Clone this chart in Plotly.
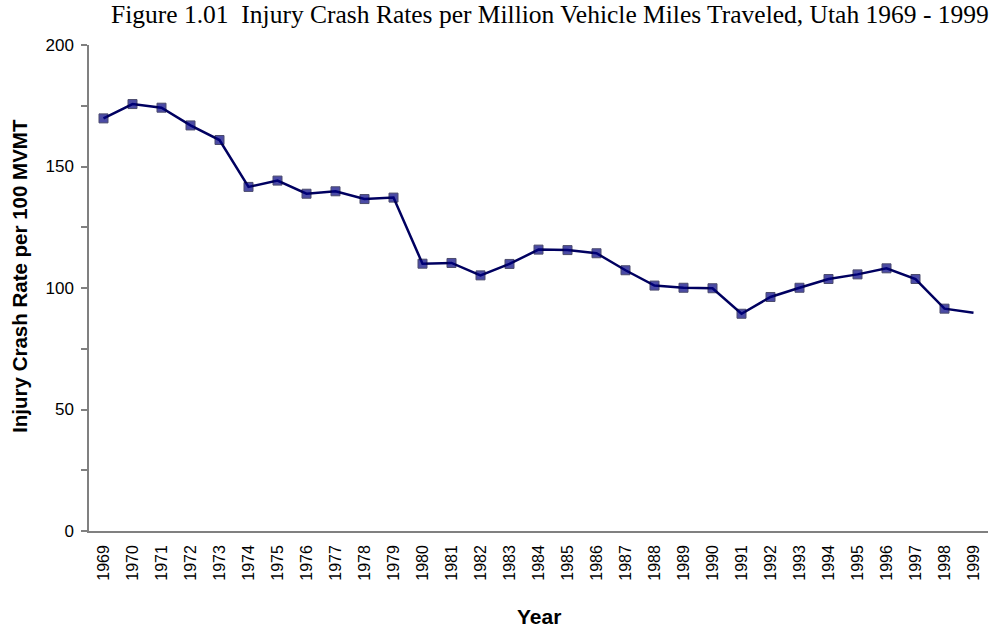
import plotly.graph_objects as go

years = [str(y) for y in range(1969, 2000)]
rates = [169.8, 175.7, 174.2, 166.9, 160.9, 141.6, 144.2, 138.8, 139.8, 136.6,
         137.2, 110.0, 110.3, 105.2, 109.9, 115.8, 115.6, 114.3, 107.3, 101.0,
         100.1, 99.9, 89.4, 96.3, 100.1, 103.7, 105.6, 108.1, 103.7, 91.5, 89.8]
y_ticks = [0, 50, 100, 150, 200]

title_text = "Figure 1.01  Injury Crash Rates per Million Vehicle Miles Traveled, Utah 1969 - 1999"
y_title = "Injury Crash Rate per 100 MVMT"
x_title = "Year"

sizes = [9] * (len(rates) - 1) + [0]

fig = go.Figure()
fig.add_trace(go.Scatter(
    x=years, y=rates, mode="lines+markers",
    line=dict(color="#000060", width=2.5),
    marker=dict(symbol="square", size=sizes, color="#000080",
                line=dict(color="#000030", width=1)),
    cliponaxis=False, showlegend=False,
))

fig.update_layout(
    width=995, height=628,
    margin=dict(l=89, r=7, t=45, b=97),
    paper_bgcolor="white", plot_bgcolor="white",
    font=dict(family="Liberation Sans, Arial", size=16, color="black"),
    xaxis=dict(
        type="category", range=[-0.5, 30.5],
        tickangle=-90, ticks="", showgrid=False, zeroline=False,
        showline=True, linecolor="#808080", linewidth=1.5,
        tickfont=dict(size=16), ticklabelstandoff=6,
    ),
    yaxis=dict(
        range=[0, 200], tickvals=y_ticks, ticks="outside", ticklen=6,
        tickcolor="#808080", tickwidth=1.5,
        minor=dict(tickvals=[25, 75, 125, 175], ticks="outside", ticklen=6,
                   tickcolor="#808080", tickwidth=1.5),
        showgrid=False, zeroline=False,
        showline=True, linecolor="#808080", linewidth=1.5,
        tickfont=dict(size=17), ticklabelstandoff=4,
    ),
    annotations=[
        dict(text=title_text, xref="paper", yref="paper", x=1.0, y=1,
             xanchor="right", yanchor="middle", xshift=3, yshift=31, showarrow=False,
             font=dict(family="Liberation Serif, Times New Roman", size=25.5, color="black")),
        dict(text="<b>" + y_title + "</b>", xref="paper", yref="paper",
             x=0, xshift=-69, y=0.525, textangle=-90, showarrow=False,
             xanchor="center", yanchor="middle",
             font=dict(family="Liberation Sans, Arial", size=20.5, color="black")),
        dict(text="<b>" + x_title + "</b>", xref="paper", yref="paper",
             x=0.5, y=0, yshift=-85, showarrow=False,
             xanchor="center", yanchor="middle",
             font=dict(family="Liberation Sans, Arial", size=21, color="black")),
    ],
)

fig.write_html("out.html", config={"displayModeBar": False},
               post_script="document.body.style.margin='0';document.body.style.padding='0';document.body.style.overflow='hidden';")
